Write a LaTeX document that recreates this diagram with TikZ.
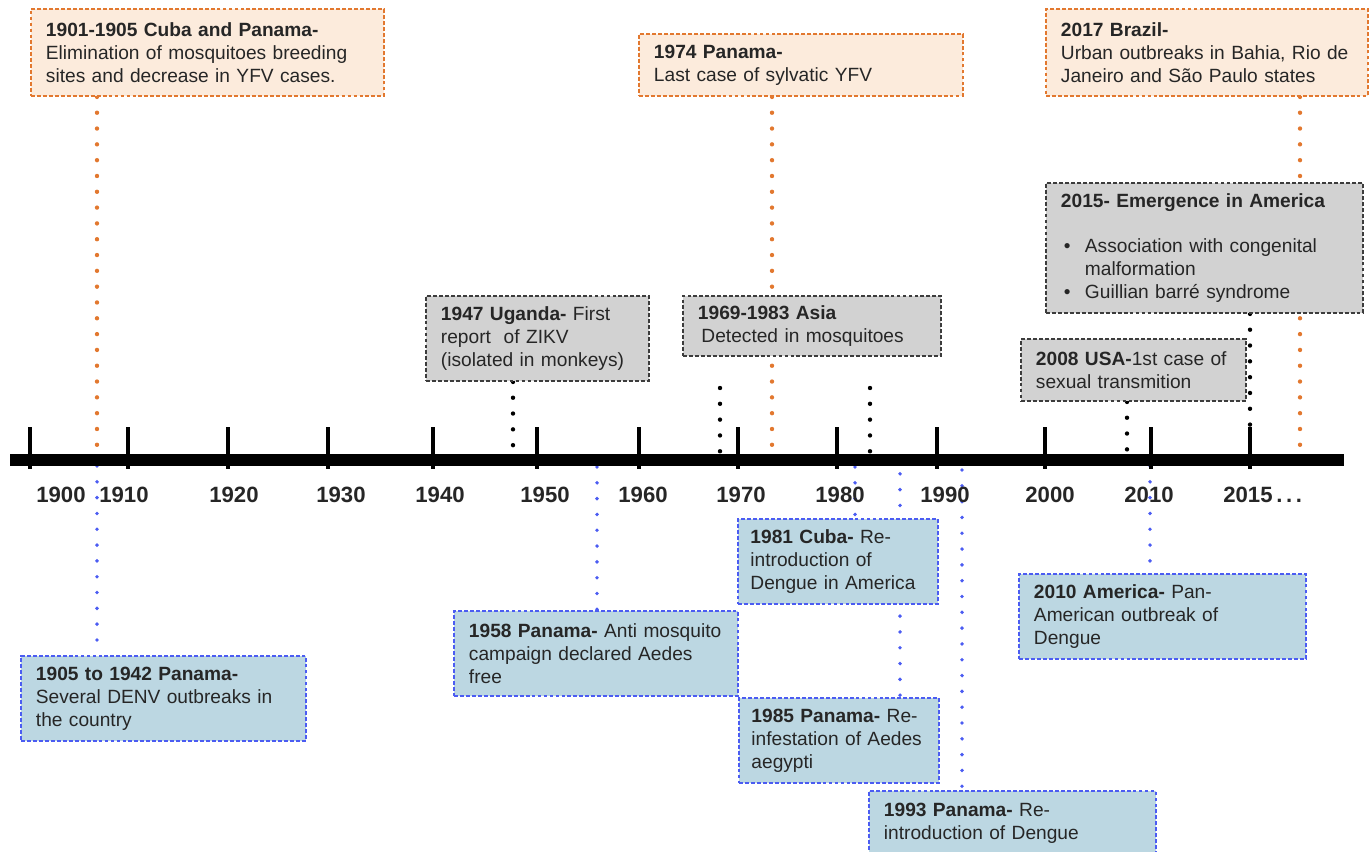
\documentclass[tikz,border=0pt]{standalone}
\usepackage{fontspec}
\setmainfont{Liberation Sans}
\usetikzlibrary{backgrounds}
\definecolor{yfvfill}{HTML}{FCEBDC}
\definecolor{yfvline}{HTML}{E2782F}
\definecolor{zikvfill}{HTML}{D2D2D2}
\definecolor{zikvline}{HTML}{3C3C3C}
\definecolor{denvfill}{HTML}{BCD7E2}
\definecolor{denvline}{HTML}{4B5CF2}

\begin{document}
\begin{tikzpicture}[
    x=0.02cm, y=-0.02cm,
    event/.style={rectangle, anchor=north west, align=left, inner xsep=0.3cm, inner ysep=0pt, line width=1.1pt, dash pattern=on 2.2pt off 1.2pt, text=black!85, font=\fontsize{10.9}{13}\selectfont},
    yfv/.style={event, fill=yfvfill, draw=yfvline},
    zikv/.style={event, fill=zikvfill, draw=zikvline},
    denv/.style={event, fill=denvfill, draw=denvline},
    dotline/.style={line width=2.5pt, line cap=round, dash pattern=on 0pt off 9pt},
    yfvdots/.style={dotline, draw=yfvline},
    zikvdots/.style={dotline, draw=black},
    denvdots/.style={dotline, draw=denvline, line width=2.2pt},
    timeline/.style={line width=6.8pt},
    yeartick/.style={line width=2.3pt},
    yearlabel/.style={font=\fontsize{12.6}{14}\selectfont\bfseries, text=black!85, inner sep=0pt},
]
\useasboundingbox (0, 0) rectangle (1371, 851);

% Yellow fever
\node[yfv, text width=6.46cm, minimum height=1.74cm] (yfv1) at (30, 8) {\textbf{1901-1905 Cuba and Panama-}\\Elimination of mosquitoes breeding\\sites and decrease in YFV cases.};
\node[yfv, text width=5.88cm, minimum height=1.24cm] (yfv2) at (638, 33) {\textbf{1974 Panama-}\\Last case of sylvatic YFV};
\node[yfv, text width=5.84cm, minimum height=1.74cm] (yfv3) at (1045, 8) {\textbf{2017 Brazil-}\\Urban outbreaks in Bahia, Rio de\\Janeiro and São Paulo states};

% Zika
\node[zikv, text width=3.86cm, minimum height=1.7cm] (zikv1) at (425, 295) {\textbf{1947 Uganda-} First\\report\ \ of ZIKV\\(isolated in monkeys)};
\node[zikv, text width=4.56cm, minimum height=1.2cm] (zikv2) at (682, 295) {\textbf{1969-1983 Asia}\\\hspace*{2pt}Detected in mosquitoes};
\node[zikv, text width=3.9cm, minimum height=1.24cm] (zikv3) at (1020, 338) {\textbf{2008 USA-}1st case of\\sexual transmition};
\node[zikv, text width=5.74cm, minimum height=2.6cm] (zikv4) at (1045, 182) {\textbf{2015- Emergence in America}\\[13pt]
    \hspace*{0.06cm}\makebox[0.42cm][l]{•}Association with congenital\\
    \hspace*{0.48cm}malformation\\
    \hspace*{0.06cm}\makebox[0.42cm][l]{•}Guillian barré syndrome};

% Dengue
\node[denv, text width=5.1cm, minimum height=1.7cm] (denv1) at (20, 655) {\textbf{1905 to 1942 Panama-}\\Several DENV outbreaks in\\the country};
\node[denv, text width=5.08cm, minimum height=1.7cm] (denv2) at (453, 610) {\textbf{1958 Panama-} Anti mosquito\\campaign declared Aedes\\free};
\node[denv, text width=3.5cm, inner xsep=0.25cm, minimum height=1.7cm] (denv3) at (737, 518) {\textbf{1981 Cuba-} Re-\\introduction of\\Dengue in America};
\node[denv, text width=3.5cm, inner xsep=0.25cm, minimum height=1.7cm] (denv4) at (738, 697) {\textbf{1985 Panama-} Re-\\infestation of Aedes\\aegypti};
\node[denv, text width=5.14cm, minimum height=1.28cm] (denv5) at (868, 790) {\textbf{1993 Panama-} Re-\\introduction of Dengue};
\node[denv, text width=5.14cm, minimum height=1.7cm] (denv6) at (1018, 573) {\textbf{2010 America-} Pan-\\American outbreak of\\Dengue};

% Points on the timeline
\coordinate (y1903) at (97, 455);
\coordinate (y1974) at (772, 455);
\coordinate (y2017) at (1300, 455);
\coordinate (z1947) at (513, 455);
\coordinate (z1969) at (720, 455);
\coordinate (z1969top) at (720, 388);
\coordinate (z1983) at (870, 455);
\coordinate (z1983top) at (870, 388);
\coordinate (z2008) at (1127, 455);
\coordinate (z2015) at (1250, 430);
\coordinate (d1905) at (97, 466);
\coordinate (d1958) at (597, 467);
\coordinate (d1981) at (855, 467);
\coordinate (d1985) at (900, 458);
\coordinate (d1993) at (962, 470);
\coordinate (d2010) at (1150, 466);

% Connectors
\begin{scope}[on background layer]
\draw[yfvdots] (y1903 |- yfv1.south) -- (y1903);
\draw[yfvdots] (y1974 |- yfv2.south) -- (y1974);
\draw[yfvdots] (y2017 |- yfv3.south) -- (y2017);
\draw[zikvdots] (z1947 |- zikv1.south) -- (z1947);
\draw[zikvdots] (z1969top) -- (z1969);
\draw[zikvdots] (z1983top) -- (z1983);
\draw[zikvdots] (z2008 |- zikv3.south) -- (z2008);
\draw[zikvdots] (z2015 |- zikv4.south) -- (z2015);
\draw[denvdots] (d1905) -- (d1905 |- denv1.north);
\draw[denvdots] (d1958) -- (d1958 |- denv2.north);
\draw[denvdots] (d1981) -- (d1981 |- denv3.north);
\draw[denvdots] (d1985) -- (d1985 |- denv4.north);
\draw[denvdots] (d1993) -- (d1993 |- denv5.north);
\draw[denvdots] (d2010) -- (d2010 |- denv6.north);
\end{scope}

% Timeline
\draw[timeline] (10, 460) -- (1344, 460);
\foreach \x in {30, 128, 228, 328, 433, 537, 639, 738, 837, 937, 1045, 1151, 1250}
    \draw[yeartick] (\x, 427) -- (\x, 469);

% Years
\foreach \yr/\x in {1900/61, 1910/124, 1920/234, 1930/341, 1940/440, 1950/545, 1960/643, 1970/741, 1980/840, 1990/945, 2000/1050, 2010/1149}
    \node[yearlabel] (l\yr) at (\x, 495) {\yr};
\node[yearlabel, anchor=west] (l2015) at (1223, 495) {2015\,.\,.\,.};

\end{tikzpicture}
\end{document}
